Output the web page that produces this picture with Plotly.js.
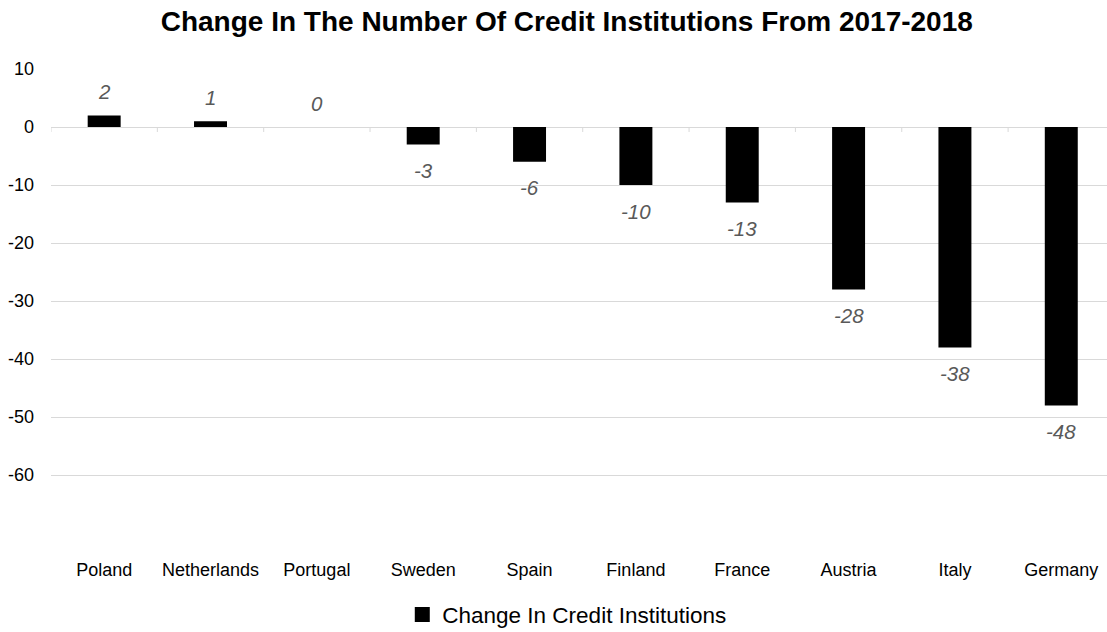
<!DOCTYPE html>
<html>
<head>
<meta charset="utf-8">
<script src="https://cdn.plot.ly/plotly-3.0.1.min.js"></script>
<style>html,body{margin:0;padding:0;background:#fff;}#chart{width:1107px;height:632px;}</style>
</head>
<body>
<div id="chart"></div>
<script>
const categories = ["Poland","Netherlands","Portugal","Sweden","Spain","Finland","France","Austria","Italy","Germany"];
const changeValues = [2,1,0,-3,-6,-10,-13,-28,-38,-48];
const seriesName = "Change In Credit Institutions";
const yTicks = [10,0,-10,-20,-30,-40,-50,-60];
const chartTitle = "Change In The Number Of Credit Institutions From 2017-2018";

const FONT = 'Liberation Sans, Arial, sans-serif';

const barTrace = {
  type: 'bar',
  x: categories,
  y: changeValues,
  name: seriesName,
  marker: {color: '#000000'},
  width: 0.31,
  showlegend: false,
  hoverinfo: 'x+y'
};

// legend entry with a larger square swatch
const legendTrace = {
  type: 'scatter', mode: 'markers',
  x: [null], y: [null],
  name: seriesName,
  marker: {symbol: 'square', color: '#000000', size: 15},
  showlegend: true, hoverinfo: 'skip'
};

// value labels, offset from the bar ends
const labelAnnotations = categories.map((c, i) => ({
  x: c, y: changeValues[i], xref: 'x', yref: 'y',
  text: String(changeValues[i]), showarrow: false,
  yanchor: 'middle', xanchor: 'center',
  yshift: changeValues[i] >= 0 ? 24 : -26,
  font: {family: FONT, size: 20.5, color: '#595959', style: 'italic'}
}));

// small tick marks on the zero line at category boundaries
const tickShapes = [];
for (let i = 0; i <= categories.length; i++) {
  tickShapes.push({type:'line', xref:'x', yref:'y', x0:i-0.5, x1:i-0.5, ysizemode:'pixel', yanchor:0, y0:0, y1:-5,
    line:{color:'#d9d9d9', width:1}});
}

const layout = {
  width: 1107, height: 632,
  paper_bgcolor: '#ffffff', plot_bgcolor: '#ffffff',
  font: {family: FONT, color: '#000000'},
  margin: {l: 51, r: 0, t: 69, b: 99, pad: 0},
  title: {text: '<b>' + chartTitle + '</b>', x: 0.512, xref: 'container', xanchor: 'center', y: 0.967, yref: 'container', yanchor: 'middle',
    font: {family: FONT, size: 28, color: '#000000'}},
  xaxis: {type: 'category', range: [-0.5, 9.43], showgrid: false, zeroline: false, showline: false, ticks: '',
    tickfont: {size: 18, color: '#000000'}, ticklabelstandoff: 24, fixedrange: true},
  yaxis: {range: [-70, 10], tickvals: yTicks, ticktext: yTicks.map(String), showgrid: true, gridcolor: '#d9d9d9', gridwidth: 1,
    zeroline: true, zerolinecolor: '#d9d9d9', zerolinewidth: 1, showline: false, ticks: '',
    tickfont: {size: 18, color: '#000000'}, ticklabelstandoff: 16, fixedrange: true},
  showlegend: true,
  legend: {orientation: 'h', x: 0.512, xref: 'container', xanchor: 'center', y: 0.027, yref: 'container', yanchor: 'middle',
    font: {size: 22.5, color: '#000000'}, itemwidth: 30},
  annotations: labelAnnotations,
  shapes: tickShapes
};

Plotly.newPlot('chart', [barTrace, legendTrace], layout, {displayModeBar: false, staticPlot: true});
</script>
</body>
</html>
